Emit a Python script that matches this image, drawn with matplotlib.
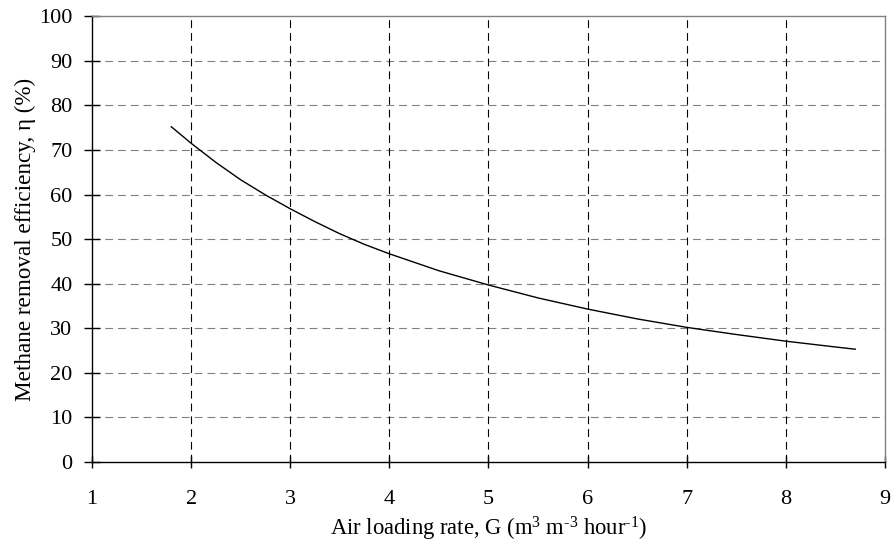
import numpy as np
import matplotlib
matplotlib.use("Agg")
import matplotlib.pyplot as plt

plt.rcParams['font.family'] = ['Liberation Serif', 'DejaVu Serif']
plt.rcParams['mathtext.fontset'] = 'custom'
plt.rcParams['mathtext.rm'] = 'Liberation Serif'
plt.rcParams['mathtext.it'] = 'Liberation Serif:italic'

# values
air_rate = [1.8, 2.0, 2.25, 2.5, 2.75, 3.0, 3.25, 3.5, 3.75, 4.0,
            4.5, 5.0, 5.5, 6.0, 6.5, 7.0, 7.5, 8.0, 8.5, 8.7]
efficiency = [75.2, 71.5, 67.2, 63.3, 59.9, 56.8, 53.9, 51.2, 48.8, 46.7,
              42.9, 39.7, 36.8, 34.3, 32.1, 30.2, 28.6, 27.1, 25.8, 25.3]

x_ticks = [1, 2, 3, 4, 5, 6, 7, 8, 9]
y_ticks = [0, 10, 20, 30, 40, 50, 60, 70, 80, 90, 100]

fig = plt.figure(figsize=(8.95, 5.45), dpi=100)
ax = fig.add_axes([0.1028, 0.1523, 0.886, 0.818])

ax.set_xlim(1, 9)
ax.set_ylim(0, 100)
ax.set_xticks(x_ticks)
ax.set_yticks(y_ticks)

# grid: gray dashed horizontals, black dashed verticals
for y in y_ticks[1:-1]:
    ax.axhline(y, color='#808080', lw=0.8, dashes=(7, 4.5), zorder=1)
for x in x_ticks[1:-1]:
    ax.axvline(x, color='black', lw=0.8, dashes=(7, 4.5), zorder=1)

ax.plot(air_rate, efficiency, color='black', lw=1.0, zorder=3)

for s in ['top', 'right']:
    ax.spines[s].set_color('#808080')
    ax.spines[s].set_linewidth(1.0)
for s in ['left', 'bottom']:
    ax.spines[s].set_color('black')
    ax.spines[s].set_linewidth(1.0)

ax.tick_params(axis='both', direction='inout', width=1.0,
               labelsize=16, colors='black')
ax.tick_params(axis='y', length=12, pad=8)
ax.tick_params(axis='x', length=9, pad=16)

ax.set_xlabel(r'Air loading rate, G (m$^{3}$ m$^{\text{-3}}$ hour$^{\text{-1}}$)',
              fontsize=16.3, labelpad=4)
ax.set_ylabel(u'Methane removal efficiency, \u03b7 (%)', fontsize=16.7, labelpad=2.5)

fig.savefig('out.png', dpi=100)
